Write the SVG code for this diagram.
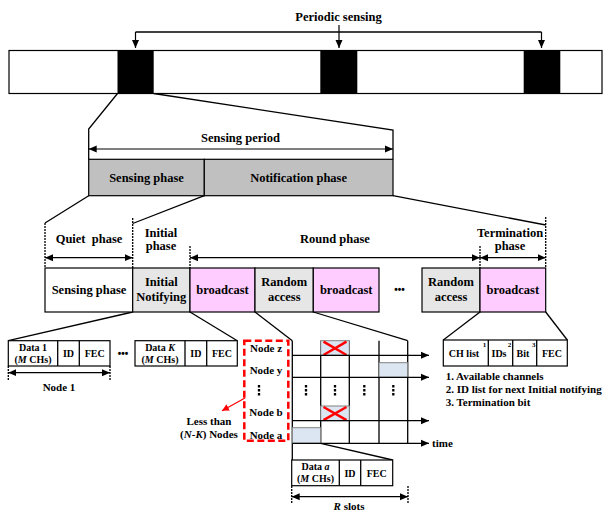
<svg xmlns="http://www.w3.org/2000/svg" width="610" height="512" viewBox="0 0 610 512">
<defs>
<marker id="ah" markerUnits="userSpaceOnUse" markerWidth="9" markerHeight="8" refX="8" refY="4" orient="auto-start-reverse"><path d="M0,0.5 L8,4 L0,7.5 z" fill="#000"/></marker>
<marker id="ahr" markerUnits="userSpaceOnUse" markerWidth="8" markerHeight="7" refX="7" refY="3.5" orient="auto"><path d="M0,0 L7,3.5 L0,7 z" fill="#f00"/></marker>
</defs>
<style>
text{font-family:"Liberation Serif","Times New Roman",serif;font-weight:bold;fill:#000;text-anchor:middle}
.t13{font-size:12.5px}
.t11{font-size:11px}
.t10{font-size:10px}
.sup{font-size:7px}
.box{stroke:#000;stroke-width:1.2}
.ln{stroke:#000;stroke-width:1.3;fill:none}
.dash{stroke:#000;stroke-width:1.3;stroke-dasharray:2,1;fill:none}
.arr{stroke:#000;stroke-width:1.2;fill:none;marker-start:url(#ah);marker-end:url(#ah)}
.arr1{stroke:#000;stroke-width:1.2;fill:none;marker-end:url(#ah)}
.white{fill:#fff}
.gray{fill:#c0c0c0}
.lgray{fill:#e6e6e6}
.pink{fill:#ffccff}
.blue{fill:#dce6f2;stroke:#808080;stroke-width:1}
.x{stroke:#f00;stroke-width:2.5}
.vdots{stroke:#000;stroke-width:2.3;stroke-dasharray:2.5,1.5}
.ell{font-family:"Liberation Sans",sans-serif;font-size:10px}
.it{font-style:italic}
</style>

<g id="connectors">
  <path class="ln" d="M135.5,32 H541.5"/>
  <line class="arr1" x1="135.5" y1="32" x2="135.5" y2="48"/>
  <line class="arr1" x1="541.5" y1="32" x2="541.5" y2="48"/>
  <line class="arr1" x1="339" y1="25" x2="339" y2="48"/>
  <path class="ln" d="M117.5,93.5 L88.7,129 L88.7,159.3"/>
  <path class="ln" d="M153.7,93.5 L393,130 L393,159.3"/>
  <line class="arr" x1="88.7" y1="149" x2="393" y2="149"/>
  <path class="ln" d="M88.7,195.7 L45,223"/>
  <path class="ln" d="M204.3,195.7 L132.7,223.5"/>
  <path class="ln" d="M393,195.7 L545.7,225"/>
  <line class="dash" x1="45" y1="223" x2="45" y2="268"/>
  <line class="dash" x1="132.7" y1="218" x2="132.7" y2="268"/>
  <line class="dash" x1="190" y1="246" x2="190" y2="268"/>
  <line class="dash" x1="480" y1="246" x2="480" y2="268"/>
  <line class="dash" x1="545.7" y1="217" x2="545.7" y2="268"/>
  <line class="arr" x1="45" y1="257.7" x2="132.7" y2="257.7"/>
  <line class="arr" x1="190" y1="257.7" x2="480" y2="257.7"/>
  <line class="arr" x1="480" y1="257.7" x2="545.7" y2="257.7"/>
  <path class="ln" d="M132.7,312 L8.3,340.7"/>
  <path class="ln" d="M190,312 L237.3,340.7"/>
  <path class="ln" d="M255,312 L292.3,340.7"/>
  <path class="ln" d="M313.3,312 L407.7,340.7"/>
  <path class="ln" d="M480,312 L443.3,340"/>
  <path class="ln" d="M545.7,312 L567.3,340"/>
  <line class="dash" x1="8.3" y1="366" x2="8.3" y2="380"/>
  <line class="dash" x1="110" y1="366" x2="110" y2="380"/>
  <line class="arr" x1="8.3" y1="372.7" x2="110" y2="372.7"/>
  <line stroke="#f00" stroke-width="1.2" marker-end="url(#ahr)" x1="245" y1="398" x2="222" y2="410.7"/>
  <line class="ln" x1="292.3" y1="340.7" x2="292.3" y2="460" stroke-width="1.5"/>
  <line class="ln" x1="320.7" y1="340.7" x2="320.7" y2="443.3" stroke-width="1.5"/>
  <line class="ln" x1="349.3" y1="340.7" x2="349.3" y2="443.3" stroke-width="1.5"/>
  <line class="ln" x1="379" y1="340.7" x2="379" y2="443.3" stroke-width="1.5"/>
  <line class="ln" x1="407.7" y1="340.7" x2="407.7" y2="443.3" stroke-width="1.5"/>
  <path class="ln" d="M320.7,443.3 L392.7,460"/>
  <line class="dash" x1="291.7" y1="486" x2="291.7" y2="504"/>
  <line class="dash" x1="408" y1="486" x2="408" y2="504"/>
  <line class="arr" x1="291.7" y1="496.7" x2="408" y2="496.7"/>
</g>

<g id="periodic-sensing-label">
  <text class="t13" x="338.5" y="21">Periodic sensing</text>
</g>

<g id="timeline">
  <rect class="box white" x="9" y="50.5" width="593" height="43"/>
  <rect x="117.5" y="50.5" width="36.2" height="43" fill="#000"/>
  <rect x="320.3" y="50.5" width="37" height="43" fill="#000"/>
  <rect x="523.7" y="50.5" width="36.6" height="43" fill="#000"/>
</g>

<g id="sensing-period-label">
  <text class="t13" x="240.5" y="141.5">Sensing period</text>
</g>

<g id="sensing-phase-top">
  <rect class="box gray" x="88.7" y="159.3" width="115.6" height="36.4"/>
  <text class="t13" x="146.5" y="181.5">Sensing phase</text>
</g>
<g id="notification-phase">
  <rect class="box gray" x="204.3" y="159.3" width="188.7" height="36.4"/>
  <text class="t13" x="298.6" y="181.5">Notification phase</text>
</g>

<g id="phase-labels">
  <text class="t13" x="89" y="243" xml:space="preserve">Quiet  phase</text>
  <text class="t13" x="161" y="236.5">Initial</text>
  <text class="t13" x="161" y="250">phase</text>
  <text class="t13" x="335" y="243">Round phase</text>
  <text class="t13" x="510" y="236.5">Termination</text>
  <text class="t13" x="510" y="250">phase</text>
</g>

<g id="sensing-phase">
  <rect class="box white" x="45" y="268" width="87.7" height="44"/>
  <text class="t13" x="89" y="294">Sensing phase</text>
</g>
<g id="initial-notifying">
  <rect class="box lgray" x="132.7" y="268" width="57.3" height="44"/>
  <text class="t13" x="161.3" y="285.5">Initial</text>
  <text class="t13" x="161.3" y="300.5">Notifying</text>
</g>
<g id="broadcast-1">
  <rect class="box pink" x="190" y="268" width="65" height="44"/>
  <text class="t13" x="222.5" y="294">broadcast</text>
</g>
<g id="random-access-1">
  <rect class="box lgray" x="255" y="268" width="58.3" height="44"/>
  <text class="t13" x="284.2" y="285.5">Random</text>
  <text class="t13" x="284.2" y="300.5">access</text>
</g>
<g id="broadcast-2">
  <rect class="box pink" x="313.3" y="268" width="65.7" height="44"/>
  <text class="t13" x="346.2" y="294">broadcast</text>
</g>
<g id="ellipsis-1">
  <text class="ell" x="399.5" y="293">•••</text>
</g>
<g id="random-access-2">
  <rect class="box lgray" x="422" y="268" width="58" height="44"/>
  <text class="t13" x="451" y="285.5">Random</text>
  <text class="t13" x="451" y="300.5">access</text>
</g>
<g id="broadcast-3">
  <rect class="box pink" x="480" y="268" width="65.7" height="44"/>
  <text class="t13" x="512.8" y="294">broadcast</text>
</g>

<g id="packet-node1">
  <rect class="box white" x="8.3" y="340.7" width="101.7" height="25.3"/>
  <line class="ln" x1="57.7" y1="340.7" x2="57.7" y2="366"/>
  <line class="ln" x1="79.3" y1="340.7" x2="79.3" y2="366"/>
  <text class="t10" x="33" y="350.5">Data 1</text>
  <text class="t10" x="33" y="362.5">(<tspan class="it">M</tspan> CHs)</text>
  <text class="t10" x="68.5" y="357">ID</text>
  <text class="t10" x="94.7" y="357">FEC</text>
  <text class="t11" x="59" y="390.5">Node 1</text>
</g>
<g id="ellipsis-2">
  <text class="ell" x="123" y="356.5">•••</text>
</g>
<g id="packet-nodeK">
  <rect class="box white" x="135" y="340.7" width="102.3" height="25.3"/>
  <line class="ln" x1="185" y1="340.7" x2="185" y2="366"/>
  <line class="ln" x1="206.7" y1="340.7" x2="206.7" y2="366"/>
  <text class="t10" x="160" y="350.5">Data <tspan class="it">K</tspan></text>
  <text class="t10" x="160" y="362.5">(<tspan class="it">M</tspan> CHs)</text>
  <text class="t10" x="195.8" y="357">ID</text>
  <text class="t10" x="222" y="357">FEC</text>
</g>

<g id="random-nodes">
  <rect x="244.3" y="340.7" width="44" height="100" fill="none" stroke="#f00" stroke-width="2.5" stroke-dasharray="7,3.5"/>
  <text class="t11" x="266" y="352">Node z</text>
  <text class="t11" x="266" y="373.5">Node y</text>
  <line class="vdots" x1="259" y1="385" x2="259" y2="396.5"/>
  <text class="t11" x="266" y="416">Node b</text>
  <text class="t11" x="266" y="439">Node a</text>
</g>
<g id="less-than-label">
  <text class="t11" x="209" y="424.5">Less than</text>
  <text class="t11" x="209" y="437.5">(<tspan class="it">N</tspan>-<tspan class="it">K</tspan>) Nodes</text>
</g>

<g id="slot-grid">
  <rect class="blue" x="320.7" y="340.7" width="28.6" height="14.6"/>
  <line class="x" x1="323.5" y1="341.7" x2="346.5" y2="355"/>
  <line class="x" x1="323.5" y1="355" x2="346.5" y2="341.7"/>
  <rect class="blue" x="379" y="362.7" width="28.7" height="14.6"/>
  <rect class="blue" x="320.7" y="406" width="28.6" height="14.7"/>
  <line class="x" x1="323.5" y1="407" x2="346.5" y2="420.2"/>
  <line class="x" x1="323.5" y1="420.2" x2="346.5" y2="407"/>
  <rect class="blue" x="292.3" y="427.7" width="28.4" height="15.6"/>
  <line class="vdots" x1="306" y1="385" x2="306" y2="396.5"/>
  <line class="vdots" x1="335" y1="385" x2="335" y2="396.5"/>
  <line class="vdots" x1="364.3" y1="385" x2="364.3" y2="396.5"/>
  <line class="vdots" x1="393.3" y1="385" x2="393.3" y2="396.5"/>
  <line class="arr1" x1="292.3" y1="355.3" x2="429" y2="355.3"/>
  <line class="arr1" x1="292.3" y1="377.3" x2="429" y2="377.3"/>
  <line class="arr1" x1="292.3" y1="420.7" x2="429" y2="420.7"/>
  <line class="arr1" x1="292.3" y1="443.3" x2="429" y2="443.3"/>
  <text class="t11" x="432" y="446.5" style="text-anchor:start">time</text>
</g>

<g id="packet-node-a">
  <rect class="box white" x="291.7" y="460" width="101" height="25.7"/>
  <line class="ln" x1="339.3" y1="460" x2="339.3" y2="485.7"/>
  <line class="ln" x1="360.7" y1="460" x2="360.7" y2="485.7"/>
  <text class="t10" x="315.5" y="470">Data <tspan class="it">a</tspan></text>
  <text class="t10" x="315.5" y="482">(<tspan class="it">M</tspan> CHs)</text>
  <text class="t10" x="350" y="476.5">ID</text>
  <text class="t10" x="376.7" y="476.5">FEC</text>
  <text class="t11" x="349" y="510"><tspan class="it">R</tspan> slots</text>
</g>

<g id="broadcast-packet">
  <rect class="box white" x="443.3" y="340" width="124" height="26"/>
  <line class="ln" x1="488.3" y1="340" x2="488.3" y2="366"/>
  <line class="ln" x1="512.7" y1="340" x2="512.7" y2="366"/>
  <line class="ln" x1="536.7" y1="340" x2="536.7" y2="366"/>
  <text class="t10" x="464" y="357">CH list</text>
  <text class="sup" x="484.5" y="347">1</text>
  <text class="t10" x="499" y="357">IDs</text>
  <text class="sup" x="509.5" y="347">2</text>
  <text class="t10" x="523" y="357">Bit</text>
  <text class="sup" x="533.8" y="347">3</text>
  <text class="t10" x="552" y="357">FEC</text>
</g>
<g id="footnotes" style="font-size:11px">
  <text x="445.7" y="380" style="text-anchor:start">1. Available channels</text>
  <text x="445.7" y="392.7" style="text-anchor:start">2. ID list for next Initial notifying</text>
  <text x="445.7" y="406" style="text-anchor:start">3. Termination bit</text>
</g>
</svg>
